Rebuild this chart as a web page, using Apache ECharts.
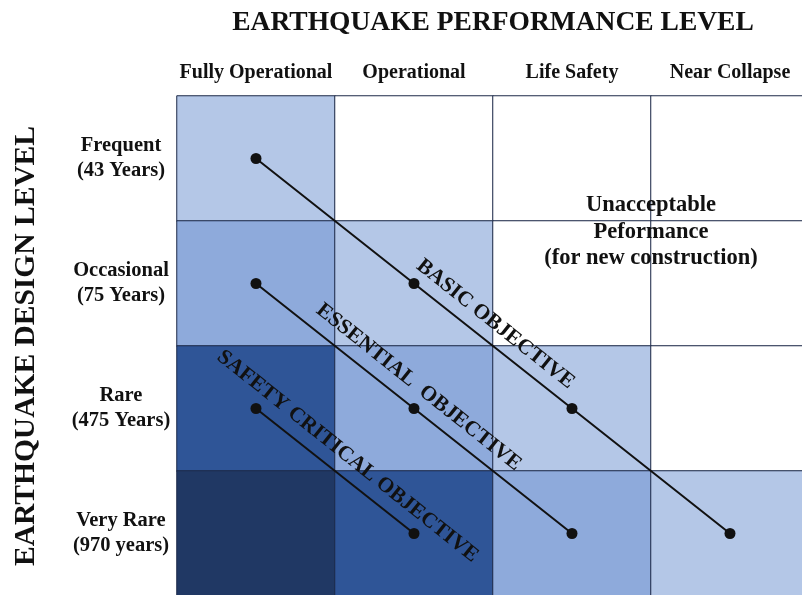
<!DOCTYPE html>
<html>
<head>
<meta charset="utf-8">
<script src="https://cdn.jsdelivr.net/npm/echarts@6/dist/echarts.min.js"></script>
<style>html,body{margin:0;padding:0;background:#fff;}#c{width:802px;height:595px;}</style>
</head>
<body>
<div id="c"></div>
<script>
const performanceLevels = ['Fully Operational', 'Operational', 'Life Safety', 'Near Collapse'];
const designLevels = ['Frequent', 'Occasional', 'Rare', 'Very Rare'];
const returnPeriods = ['(43 Years)', '(75 Years)', '(475 Years)', '(970 years)'];
// shading level per cell: rows = design levels, cols = performance levels
const cellLevels = [
  [1, 0, 0, 0],
  [2, 1, 0, 0],
  [3, 2, 1, 0],
  [4, 3, 2, 1]
];
// objectives: [performanceIndex, designIndex]
const basicObjective = [[0, 0], [1, 1], [2, 2], [3, 3]];
const essentialObjective = [[0, 1], [1, 2], [2, 3]];
const safetyCriticalObjective = [[0, 2], [1, 3]];
const objectiveNames = ['BASIC OBJECTIVE', 'ESSENTIAL  OBJECTIVE', 'SAFETY CRITICAL OBJECTIVE'];
const unacceptableText = 'Unacceptable\nPeformance\n(for new construction)';

const rowLabels = designLevels.map((d, i) => d + '\n' + returnPeriods[i]);
const heatData = [];
cellLevels.forEach((row, r) => row.forEach((v, c) => heatData.push([c, r, v])));

const serif = 'Liberation Serif, Times New Roman, serif';
const G = { left: 177, top: 96, width: 632, height: 500, outerBoundsMode: 'none', containLabel: false };
const ink = '#111111';

function lineSeries(name, pts) {
  return {
    name: name, type: 'line', xAxisIndex: 1, yAxisIndex: 1,
    data: pts, symbol: 'circle', symbolSize: 11,
    lineStyle: { color: ink, width: 2 }, itemStyle: { color: ink },
    z: 5, silent: true
  };
}

const chart = echarts.init(document.getElementById('c'));
chart.setOption({
  animation: false,
  title: {
    text: 'EARTHQUAKE PERFORMANCE LEVEL',
    left: 488, top: 4, textAlign: 'center',
    textStyle: { fontFamily: serif, fontWeight: 'bold', fontSize: 27.5, color: ink }
  },
  grid: [Object.assign({}, G), Object.assign({}, G)],
  xAxis: [
    {
      type: 'category', gridIndex: 0, position: 'top', data: performanceLevels,
      axisLine: { show: false }, axisTick: { show: false }, splitLine: { show: false },
      axisLabel: { interval: 0, margin: 13, fontFamily: serif, fontWeight: 'bold', fontSize: 20, color: ink }
    },
    { type: 'value', gridIndex: 1, min: -0.5, max: 3.5, show: false }
  ],
  yAxis: [
    {
      type: 'category', gridIndex: 0, inverse: true, data: rowLabels,
      axisLine: { show: false }, axisTick: { show: false }, splitLine: { show: false },
      axisLabel: { interval: 0, margin: 56, align: 'center', lineHeight: 25, padding: [5, 0, 0, 0], fontFamily: serif, fontWeight: 'bold', fontSize: 20.5, color: ink },
      name: 'EARTHQUAKE DESIGN LEVEL', nameLocation: 'middle', nameRotate: 90, nameGap: 136,
      nameTextStyle: { fontFamily: serif, fontWeight: 'bold', fontSize: 29.5, color: ink }
    },
    { type: 'value', gridIndex: 1, min: -0.5, max: 3.5, inverse: true, show: false }
  ],
  visualMap: {
    show: false, type: 'piecewise', seriesIndex: 0, dimension: 2,
    pieces: [
      { value: 0, color: '#ffffff' },
      { value: 1, color: '#b4c7e7' },
      { value: 2, color: '#8eaadb' },
      { value: 3, color: '#2f5597' },
      { value: 4, color: '#203864' }
    ]
  },
  series: [
    {
      type: 'heatmap', xAxisIndex: 0, yAxisIndex: 0, data: heatData,
      itemStyle: { borderColor: '#1c2a48', borderWidth: 1 },
      label: { show: false }, silent: true
    },
    lineSeries('basic', basicObjective),
    lineSeries('essential', essentialObjective),
    lineSeries('safety', safetyCriticalObjective),
    {
      type: 'scatter', xAxisIndex: 1, yAxisIndex: 1, symbolSize: 1, silent: true, z: 6,
      itemStyle: { opacity: 1, color: 'rgba(0,0,0,0)' },
      data: [
        { name: objectiveNames[0], value: [1.515, 1.325] },
        { name: objectiveNames[1], value: [1.03, 1.83] },
        { name: objectiveNames[2], value: [0.58, 2.383] }
      ],
      label: {
        show: true, position: 'inside', formatter: p => p.name, rotate: -38.5, opacity: 1,
        fontFamily: serif, fontWeight: 'bold', fontSize: 21.5, color: ink
      }
    },
    {
      type: 'scatter', xAxisIndex: 1, yAxisIndex: 1, symbolSize: 1, silent: true, z: 6,
      itemStyle: { opacity: 1, color: 'rgba(0,0,0,0)' },
      data: [{ name: unacceptableText, value: [2.5, 0.588] }],
      label: {
        show: true, position: 'inside', formatter: p => p.name, lineHeight: 26.5, align: 'center', opacity: 1,
        fontFamily: serif, fontWeight: 'bold', fontSize: 22.5, color: ink
      }
    }
  ]
});
</script>
</body>
</html>
